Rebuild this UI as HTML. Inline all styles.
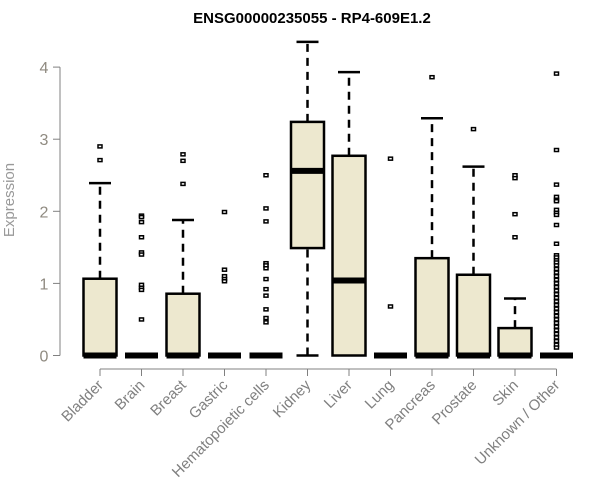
<!DOCTYPE html>
<html><head><meta charset="utf-8"><style>
body{margin:0;background:#fff;}
svg{display:block;font-family:"Liberation Sans",sans-serif;}
</style></head><body>
<svg id="chart" width="600" height="500">
<text x="312" y="23" text-anchor="middle" font-weight="bold" font-size="15" fill="#000">ENSG00000235055 - RP4-609E1.2</text>
<text transform="translate(14,200) rotate(-90)" text-anchor="middle" font-size="15" fill="#999">Expression</text>
</svg>
<script>
const categories=["Bladder","Brain","Breast","Gastric","Hematopoietic cells","Kidney","Liver","Lung","Pancreas","Prostate","Skin","Unknown / Other"];
const q1=[0,0,0,0,0,1.49,0,0,0,0,0,0];
const medians=[0,0,0,0,0,2.56,1.04,0,0,0,0,0];
const q3=[1.065,0,0.857,0,0,3.24,2.77,0,1.35,1.12,0.38,0];
const whiskerLow=[0,0,0,0,0,0,0,0,0,0,0,0];
const whiskerHigh=[2.39,0,1.88,0,0,4.35,3.93,0,3.29,2.62,0.79,0];
const outliers=[
[2.90,2.71],
[1.94,1.92,1.85,1.64,1.43,1.40,0.98,0.94,0.91,0.50],
[2.79,2.70,2.38],
[1.99,1.19,1.10,1.06,1.03],
[2.50,2.04,1.86,1.28,1.25,1.21,1.06,0.92,0.83,0.64,0.52,0.46],
[],[],
[2.73,0.68],
[3.86],
[3.14],
[2.50,2.46,1.96,1.64],
[3.91,2.85,2.37,2.20,2.16,2.14,2.02,1.98,1.95,1.81,1.55,1.39,1.36,1.32,1.29,1.25,1.20,1.15,1.10,1.05,1.00,0.95,0.90,0.85,0.80,0.75,0.70,0.65,0.60,0.55,0.50,0.45,0.40,0.35,0.30,0.25,0.20,0.15,0.11]
];
const yTicks=[0,1,2,3,4];
const svg=document.getElementById('chart');
const NS='http://www.w3.org/2000/svg';
const y=v=>355.5-v*72.1;
const x=i=>100+i*41.5;
function mk(tag,attrs,parent){const e=document.createElementNS(NS,tag);for(const k in attrs)e.setAttribute(k,attrs[k]);(parent||svg).appendChild(e);return e;}
const ya=mk('g',{});


mk('line',{x1:60,x2:60,y1:y(0),y2:y(4),stroke:'#808080','stroke-width':1},ya);
yTicks.forEach(t=>{
 mk('line',{x1:53,x2:60,y1:y(t),y2:y(t),stroke:'#808080'},ya);
 const tx=mk('text',{x:44,y:y(t)+6,'text-anchor':'middle','font-size':16,fill:'#8f8a80'},ya);
 
 
 tx.textContent=t;
});
const xa=mk('g',{});


mk('line',{x1:x(0),x2:x(categories.length-1),y1:369,y2:369,stroke:'#808080'},xa);
categories.forEach((c,i)=>{
 mk('line',{x1:x(i),x2:x(i),y1:369,y2:376,stroke:'#808080'},xa);
 const tx=mk('text',{transform:`translate(${x(i)+4},${386}) rotate(-45)`,'text-anchor':'end','font-size':15,fill:'#808080'},xa);
 
 
 tx.textContent=c;
});
categories.forEach((c,i)=>{
 const g=mk('g',{});
 
 
 const cx=x(i),hw=16.5;
 if(whiskerHigh[i]>q3[i]){
  mk('line',{x1:cx,x2:cx,y1:y(q3[i]),y2:y(whiskerHigh[i]),stroke:'#000','stroke-width':2.5,'stroke-dasharray':'8,6'},g);
  mk('line',{x1:cx-11,x2:cx+11,y1:y(whiskerHigh[i]),y2:y(whiskerHigh[i]),stroke:'#000','stroke-width':2.5},g);
 }
 if(q1[i]>whiskerLow[i]){
  mk('line',{x1:cx,x2:cx,y1:y(whiskerLow[i]),y2:y(q1[i]),stroke:'#000','stroke-width':2.5,'stroke-dasharray':'8,6'},g);
  mk('line',{x1:cx-11,x2:cx+11,y1:y(whiskerLow[i]),y2:y(whiskerLow[i]),stroke:'#000','stroke-width':2.5},g);
 }
 if(q3[i]>q1[i]) mk('rect',{x:cx-hw,y:y(q3[i]),width:hw*2,height:y(q1[i])-y(q3[i]),fill:'#ede8cf',stroke:'#000','stroke-width':2.5},g);
 mk('line',{x1:cx-hw,x2:cx+hw,y1:y(medians[i]),y2:y(medians[i]),stroke:'#000','stroke-width':6},g);
 outliers[i].forEach(o=>{
  const r=mk('rect',{x:cx-2,y:y(o)-1.5,width:4,height:3,fill:'#fff',stroke:'#000','stroke-width':1.5},g);
  
  
 });
});
</script>
</body></html>
